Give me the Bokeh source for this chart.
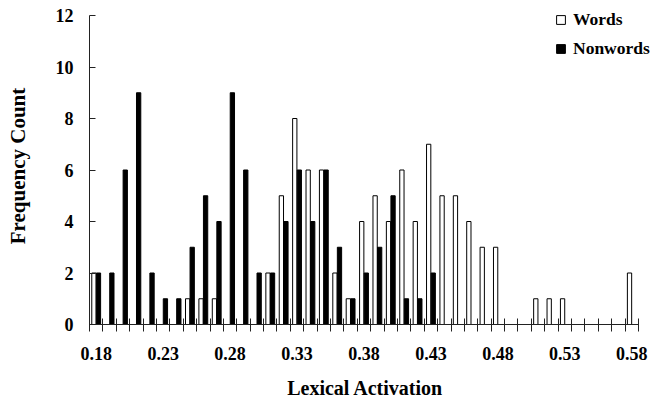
from bokeh.plotting import figure
from bokeh.models import (Range1d, FixedTicker, Legend, LegendItem, Title,
                          ColumnDataSource)
from bokeh.transform import dodge
from bokeh.embed import file_html
from bokeh.resources import INLINE

# ---- data -------------------------------------------------------------
bins = [0.18, 0.19, 0.20, 0.21, 0.22, 0.23, 0.24, 0.25, 0.26, 0.27,
        0.28, 0.29, 0.30, 0.31, 0.32, 0.33, 0.34, 0.35, 0.36, 0.37,
        0.38, 0.39, 0.40, 0.41, 0.42, 0.43, 0.44, 0.45, 0.46, 0.47,
        0.48, 0.49, 0.50, 0.51, 0.52, 0.53, 0.54, 0.55, 0.56, 0.57,
        0.58]
words = [2, 0, 0, 0, 0, 0, 0, 1, 1, 1,
         0, 0, 0, 2, 5, 8, 6, 6, 2, 1,
         4, 5, 4, 6, 4, 7, 5, 5, 4, 3,
         3, 0, 0, 1, 1, 1, 0, 0, 0, 0,
         2]
nonwords = [2, 2, 6, 9, 2, 1, 1, 3, 5, 4,
            9, 6, 2, 2, 4, 6, 4, 6, 3, 1,
            2, 3, 5, 1, 1, 2, 0, 0, 0, 0,
            0, 0, 0, 0, 0, 0, 0, 0, 0, 0,
            0]
x_tick_values = [0.18, 0.23, 0.28, 0.33, 0.38, 0.43, 0.48, 0.53, 0.58]
x_tick_labels = ["0.18", "0.23", "0.28", "0.33", "0.38", "0.43", "0.48", "0.53", "0.58"]
y_tick_values = [0, 2, 4, 6, 8, 10, 12]

bin_w = 0.01
x_lo = bins[0] - bin_w / 2
x_hi = bins[-1] + bin_w / 2
y_lo, y_hi = 0, 12

FONT = "Liberation Serif"

src = ColumnDataSource(dict(x=bins, words=words, nonwords=nonwords))

# layout (pixels): axes box is 89..638 x 15..324; the frame is widened to the
# right canvas edge and a little above the top so the legend is not clipped
W, H = 652, 410
LEFT, TOP, AXIS_W, AXIS_H = 89, 15, 549, 309
EXTRA_TOP = 8
px_x = (x_hi - x_lo) / AXIS_W
px_y = (y_hi - y_lo) / AXIS_H
frame_w = W - LEFT
x_view_hi = x_lo + frame_w * px_x
y_view_hi = y_hi + EXTRA_TOP * px_y

p = figure(width=W, height=H,
           x_range=Range1d(x_lo, x_view_hi), y_range=Range1d(y_lo, y_view_hi),
           output_backend="svg", toolbar_location=None,
           min_border_left=LEFT, min_border_right=0,
           min_border_top=TOP - EXTRA_TOP, min_border_bottom=H - TOP - AXIS_H)
p.xgrid.visible = False
p.ygrid.visible = False
p.outline_line_color = None
p.background_fill_color = "white"
p.border_fill_color = "white"

bw = 0.0032
r_words = p.vbar(x=dodge("x", -0.0017, range=p.x_range), top="words", width=bw,
                 source=src, fill_color="white", line_color="black", line_width=1)
r_non = p.vbar(x=dodge("x", 0.0017, range=p.x_range), top="nonwords", width=bw,
               source=src, fill_color="black", line_color="black", line_width=1)

# x axis
boundaries = [b - bin_w / 2 for b in bins] + [bins[-1] + bin_w / 2]
xa = p.xaxis[0]
xa.bounds = (x_lo, x_hi)
xa.ticker = FixedTicker(ticks=x_tick_values, minor_ticks=boundaries)
xa.major_label_overrides = {v: s for v, s in zip(x_tick_values, x_tick_labels)}
xa.major_tick_in = 0
xa.major_tick_out = 0
xa.minor_tick_in = 6
xa.minor_tick_out = 7
xa.minor_tick_line_color = "#222222"
xa.axis_line_color = "#222222"
xa.major_label_standoff = 15
xa.major_label_text_font = FONT
xa.major_label_text_font_style = "bold"
xa.major_label_text_font_size = "18px"
xa.major_label_text_color = "black"

# y axis
ya = p.yaxis[0]
ya.bounds = (y_lo, y_hi)
ya.ticker = FixedTicker(ticks=y_tick_values)
ya.major_tick_in = 6
ya.major_tick_out = 0
ya.minor_tick_in = 0
ya.minor_tick_out = 0
ya.major_tick_line_color = "#222222"
ya.axis_line_color = "#222222"
ya.major_label_standoff = 16
ya.major_label_text_font = FONT
ya.major_label_text_font_style = "bold"
ya.major_label_text_font_size = "18px"
ya.major_label_text_color = "black"
ya.axis_label = "Frequency Count"
ya.axis_label_standoff = 23
ya.axis_label_text_font = FONT
ya.axis_label_text_font_style = "bold"
ya.axis_label_text_font_size = "21px"
ya.axis_label_text_color = "black"

# x axis title, centred under the axes box (the frame is wider than the axis)
XT_SIZE = 20
xt_width = 7.68 * XT_SIZE
xt = Title(text="Lexical Activation", align="left",
           offset=AXIS_W / 2 - xt_width / 2, standoff=24,
           text_font=FONT, text_font_style="bold",
           text_font_size=f"{XT_SIZE}px", text_color="black")
p.add_layout(xt, "below")

legend = Legend(items=[LegendItem(label="Words", renderers=[r_words]),
                       LegendItem(label="Nonwords", renderers=[r_non])],
                location=(466, 265), orientation="vertical",
                padding=0, margin=0, spacing=8,
                glyph_width=11, glyph_height=11, label_height=20,
                label_standoff=7,
                label_text_font=FONT, label_text_font_style="bold",
                label_text_font_size="17.5px", label_text_color="black",
                border_line_color=None, background_fill_alpha=0)
p.add_layout(legend)

open("out.html", "w").write(file_html(p, INLINE))
